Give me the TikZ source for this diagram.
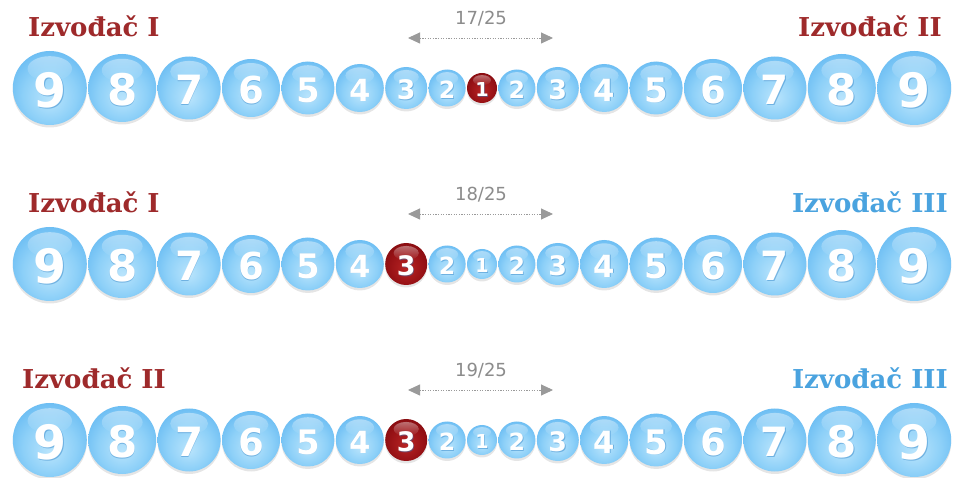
\documentclass[tikz,border=0pt]{standalone}
\usepackage{fontspec}
\setmainfont{DejaVu Serif}
\newfontfamily\digitfont{DejaVu Sans}
\usetikzlibrary{arrows.meta,fadings}
\definecolor{bb1}{HTML}{B9E4FC}
\definecolor{bb2}{HTML}{8DD0F8}
\definecolor{bb3}{HTML}{66BAF2}
\definecolor{bb4}{HTML}{439FE8}
\definecolor{bb5}{HTML}{2E87D3}
\definecolor{rb1}{HTML}{B82424}
\definecolor{rb2}{HTML}{981216}
\definecolor{rb3}{HTML}{78060B}
\definecolor{rb4}{HTML}{520003}
\definecolor{lblredc}{HTML}{9E2A2B}
\definecolor{lblbluec}{HTML}{4AA3DF}
\definecolor{cntc}{HTML}{8C8C8C}
\definecolor{arrc}{HTML}{9A9A9A}
\definecolor{digsh}{HTML}{2C7FC4}
\pgfdeclareradialshading{blueball}{\pgfpoint{0bp}{-8bp}}{color(0bp)=(bb1); color(18bp)=(bb2); color(31bp)=(bb3); color(43bp)=(bb4); color(50bp)=(bb5)}
\pgfdeclareradialshading{redball}{\pgfpoint{0bp}{-6bp}}{color(0bp)=(rb1); color(20bp)=(rb2); color(38bp)=(rb3); color(50bp)=(rb4)}
\tikzset{
  lblred/.style={font=\bfseries\fontsize{26}{26}\selectfont, text=lblredc, inner sep=0pt},
  lblblue/.style={font=\bfseries\fontsize{26}{26}\selectfont, text=lblbluec, inner sep=0pt},
  cnt/.style={font=\digitfont\fontsize{18}{18}\selectfont, text=cntc, inner sep=0pt},
  cntarrow/.style={draw=arrc, line width=0.9pt, dash pattern=on 1.2pt off 1.4pt,
     {Triangle[length=12pt,width=11pt]}-{Triangle[length=12pt,width=11pt]}},
  digit/.style={text=white, inner sep=0pt, anchor=center}
}
\newcommand{\drawball}[6]{%
  \fill[black,opacity=0.10] (#1,#2+2.5) circle[radius=#3pt];
  \shade[shading=#5] (#1,#2) circle[radius=#3pt];
  \fill[white, opacity=0.4, path fading=south] (#1,#2-0.52*#3) ellipse[x radius=0.6*#3pt, y radius=0.34*#3pt];
  \pgfmathsetmacro\fs{1.28*#3}%
  \node[digit, text=digsh, opacity=0.45, font=\digitfont\bfseries\fontsize{\fs}{\fs}\selectfont] at (#1+0.8,#2+2.8) {#4};
  \node[digit, font=\digitfont\bfseries\fontsize{\fs}{\fs}\selectfont] (#6) at (#1,#2+2) {#4};
}
\begin{document}
\begin{tikzpicture}[x=1pt,y=-1pt]
\useasboundingbox (0,0) rectangle (954,478);
\fill[white] (0,0) rectangle (954,478);
\foreach \ry/\redi [count=\rw] in {88/9, 264/7, 440/7}{
  \foreach \x/\r/\d [count=\i] in {49.8/37/9, 122.2/34/8, 189.1/31.5/7, 251/29/6, 307.9/26.5/5, 359.8/24/4, 406.2/21/3, 447.1/18.5/2, 482/15/1, 516.9/18.5/2, 557.8/21/3, 604.2/24/4, 656.1/26.5/5, 713/29/6, 774.9/31.5/7, 841.8/34/8, 914.2/37/9}{
    \ifnum\i=\redi \def\kind{redball}\else\def\kind{blueball}\fi
    \drawball{\x}{\ry}{\r}{\d}{\kind}{b\rw-\i}
  }
}
% row 1
\node[lblred, anchor=base west] (l1L) at (28,37) {Izvođač I};
\node[lblred, anchor=base east] (l1R) at (942,37) {Izvođač II};
\node[cnt] (c1) at (481,19) {17/25};
\coordinate (aL1) at (408,38);
\coordinate (aR1) at (553,38);
\draw[cntarrow] (aL1) -- (aR1);
% row 2
\node[lblred, anchor=base west] (l2L) at (28,213) {Izvođač I};
\node[lblblue, anchor=base east] (l2R) at (948,213) {Izvođač III};
\node[cnt] (c2) at (481,195) {18/25};
\coordinate (aL2) at (408,214);
\coordinate (aR2) at (553,214);
\draw[cntarrow] (aL2) -- (aR2);
% row 3
\node[lblred, anchor=base west] (l3L) at (22,389) {Izvođač II};
\node[lblblue, anchor=base east] (l3R) at (948,389) {Izvođač III};
\node[cnt] (c3) at (481,371) {19/25};
\coordinate (aL3) at (408,390);
\coordinate (aR3) at (553,390);
\draw[cntarrow] (aL3) -- (aR3);
\end{tikzpicture}
\end{document}
